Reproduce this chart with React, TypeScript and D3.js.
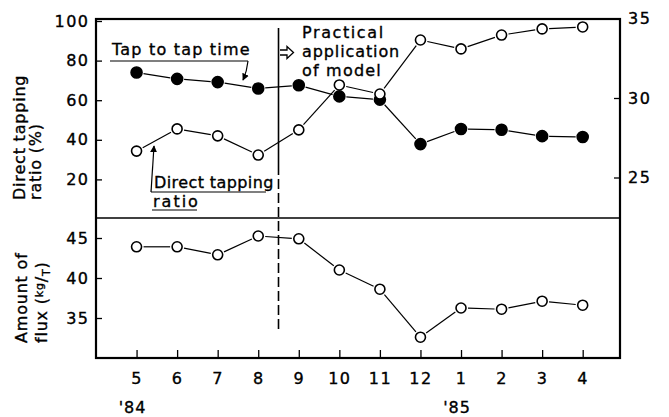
import * as d3 from "d3";
import { useEffect, useRef } from "react";

// months from May '84 to April '85
const months = ["5", "6", "7", "8", "9", "10", "11", "12", "1", "2", "3", "4"];
const yearLabels = ["'84", "'85"];
const yearStartIndex = [0, 8];

// tap to tap time (right axis), filled dots
const tapTime = [31.6, 31.2, 31.0, 30.6, 30.8, 30.1, 29.9, 27.1, 28.05, 28.0, 27.6, 27.55];
// direct tapping ratio % (left axis), open dots
const directRatio = [34.3, 45.5, 42, 32.3, 45, 67.7, 63.1, 90.4, 85.9, 92.9, 96, 97];
// amount of flux kg/T (lower panel)
const flux = [43.9, 43.9, 42.9, 45.25, 44.9, 41, 38.6, 32.6, 36.25, 36.1, 37.1, 36.6];

const ratioTicks = [20, 40, 60, 80, 100];
const timeTicks = [25, 30, 35];
const fluxTicks = [35, 40, 45];

const FONT = "'DejaVu Sans', Verdana, sans-serif";

type Pt = [number, number];

// old print style: lines stop a little before each marker
function gapped(pts: Pt[], gap: number) {
  const segs: [Pt, Pt][] = [];
  for (let i = 1; i < pts.length; i++) {
    const [x1, y1] = pts[i - 1];
    const [x2, y2] = pts[i];
    const len = Math.hypot(x2 - x1, y2 - y1);
    if (len <= gap * 2) continue;
    const ux = (x2 - x1) / len;
    const uy = (y2 - y1) / len;
    segs.push([
      [x1 + ux * gap, y1 + uy * gap],
      [x2 - ux * gap, y2 - uy * gap],
    ]);
  }
  return segs;
}

function Chart() {
  const ref = useRef<SVGSVGElement>(null);

  useEffect(() => {
    if (!ref.current) return;
    const svg = d3.select(ref.current);
    svg.selectAll("*").remove();

    const left = 96;
    const right = 620;
    const top = 19;
    const mid = 218;
    const bottom = 358;

    const x = d3.scaleLinear().domain([-1, 11.92]).range([left, right]);
    const yRatio = d3.scaleLinear().domain([0, 100]).range([219, 21]);
    const yTime = d3.scaleLinear().domain([25, 35]).range([177.5, 18.5]);
    const yFlux = d3.scaleLinear().domain([30, 45]).range([bottom, 238]);

    const defs = svg.append("defs");
    defs
      .append("marker")
      .attr("id", "head")
      .attr("viewBox", "0 0 10 10")
      .attr("refX", 9)
      .attr("refY", 5)
      .attr("markerWidth", 7)
      .attr("markerHeight", 9)
      .attr("markerUnits", "userSpaceOnUse")
      .attr("orient", "auto")
      .append("path")
      .attr("d", "M0,0 L10,5 L0,10 Z")
      .attr("fill", "#000");

    // frame + panel divider
    svg
      .append("rect")
      .attr("x", left)
      .attr("y", top)
      .attr("width", right - left)
      .attr("height", bottom - top)
      .attr("fill", "none")
      .attr("stroke", "#000")
      .attr("stroke-width", 2.2);
    svg
      .append("line")
      .attr("x1", left)
      .attr("x2", right)
      .attr("y1", mid)
      .attr("y2", mid)
      .attr("stroke", "#000")
      .attr("stroke-width", 1.4);

    const styleAxis = (g: d3.Selection<SVGGElement, unknown, null, undefined>) => {
      g.select(".domain").remove();
      g.selectAll("line").attr("stroke", "#000").attr("stroke-width", 1.3);
      g.selectAll("text")
        .style("font-family", FONT)
        .style("font-size", "16px")
        .style("letter-spacing", "1.5px")
        .attr("fill", "#000")
        .attr("stroke", "#000")
        .attr("stroke-width", 0.35);
    };

    svg
      .append("g")
      .attr("transform", `translate(${left},0)`)
      .call(d3.axisLeft(yRatio).tickValues(ratioTicks).tickSize(-6).tickPadding(6.5))
      .call(styleAxis);

    svg
      .append("g")
      .attr("transform", `translate(${left},0)`)
      .call(d3.axisLeft(yFlux).tickValues(fluxTicks).tickSize(-6).tickPadding(6.5))
      .call(styleAxis);

    svg
      .append("g")
      .attr("transform", `translate(${right},0)`)
      .call(d3.axisRight(yTime).tickValues(timeTicks).tickSize(-6).tickPadding(8))
      .call(styleAxis);

    svg
      .append("g")
      .attr("transform", `translate(0,${bottom})`)
      .call(
        d3
          .axisBottom(x)
          .tickValues(d3.range(months.length))
          .tickFormat((i) => months[i as number])
          .tickSize(-8)
          .tickPadding(15)
      )
      .call(styleAxis);

    svg
      .append("g")
      .selectAll("text")
      .data(yearLabels)
      .join("text")
      .attr("x", (_, i) => x(yearStartIndex[i]) - 4)
      .attr("y", 413)
      .attr("text-anchor", "middle")
      .attr("stroke", "#000")
      .attr("stroke-width", 0.35)
      .style("font-family", FONT)
      .style("font-size", "16px")
      .style("letter-spacing", "1px")
      .text((d) => d);

    // practical application divider
    const xDiv = x(3.5);
    svg
      .append("line")
      .attr("x1", xDiv)
      .attr("x2", xDiv)
      .attr("y1", 28)
      .attr("y2", 165)
      .attr("stroke", "#000")
      .attr("stroke-width", 1.6);
    svg
      .append("line")
      .attr("x1", xDiv)
      .attr("x2", xDiv)
      .attr("y1", 165)
      .attr("y2", 333)
      .attr("stroke", "#000")
      .attr("stroke-width", 1.6)
      .attr("stroke-dasharray", "10,4");

    const lineG = svg.append("g").attr("stroke", "#000").attr("stroke-width", 1.2);
    const drawSeries = (vals: number[], y: d3.ScaleLinear<number, number>, filled: boolean) => {
      const pts: Pt[] = vals.map((v, i) => [x(i), y(v)]);
      lineG
        .append("g")
        .selectAll("line")
        .data(gapped(pts, 7))
        .join("line")
        .attr("x1", (d) => d[0][0])
        .attr("y1", (d) => d[0][1])
        .attr("x2", (d) => d[1][0])
        .attr("y2", (d) => d[1][1]);
      svg
        .append("g")
        .selectAll("circle")
        .data(pts)
        .join("circle")
        .attr("cx", (d) => d[0])
        .attr("cy", (d) => d[1])
        .attr("r", filled ? 5.5 : 5)
        .attr("fill", filled ? "#000" : "#fff")
        .attr("stroke", "#000")
        .attr("stroke-width", 1.6);
    };

    drawSeries(tapTime, yTime, true);
    drawSeries(directRatio, yRatio, false);
    drawSeries(flux, yFlux, false);

    const label = (tx: number, ty: number, t: string, ls = 1) =>
      svg
        .append("text")
        .attr("x", tx)
        .attr("y", ty)
        .attr("stroke", "#000")
        .attr("stroke-width", 0.35)
        .style("font-family", FONT)
        .style("font-size", "16px")
        .style("letter-spacing", `${ls}px`)
        .text(t);

    // "Tap to tap time" callout
    label(112, 55, "Tap to tap time", 1.2);
    svg
      .append("path")
      .attr("d", "M110,61 H248")
      .attr("stroke", "#000")
      .attr("stroke-width", 1.2)
      .attr("fill", "none");
    svg
      .append("path")
      .attr("d", "M248,61 Q247,71 243,80")
      .attr("stroke", "#000")
      .attr("stroke-width", 1.2)
      .attr("fill", "none")
      .attr("marker-end", "url(#head)");

    // "Direct tapping ratio" callout
    label(154, 188, "Direct tapping", 0.4);
    label(153, 207, "ratio", 2);
    svg
      .append("path")
      .attr("d", "M151,192 H266 M152,210 H197")
      .attr("stroke", "#000")
      .attr("stroke-width", 1.2)
      .attr("fill", "none");
    svg
      .append("path")
      .attr("d", "M151,192 L154,146")
      .attr("stroke", "#000")
      .attr("stroke-width", 1.2)
      .attr("fill", "none")
      .attr("marker-end", "url(#head)");

    // "Practical application of model"
    svg
      .append("path")
      .attr("d", "M280,50 H287 V46.5 L293.5,52.5 L287,58.5 V55 H280")
      .attr("fill", "#fff")
      .attr("stroke", "#000")
      .attr("stroke-width", 1.3);
    label(302, 38, "Practical", 1.6);
    label(302, 57, "application", 0.9);
    label(302, 76, "of model", 1.2);

    // axis titles
    const vtitle = (tx: number, ty: number) =>
      svg
        .append("text")
        .attr("transform", `translate(${tx},${ty}) rotate(-90)`)
        .attr("stroke", "#000")
        .attr("stroke-width", 0.35)
        .style("font-family", FONT)
        .style("font-size", "16px")
        .style("letter-spacing", "0.8px");

    vtitle(25, 200).text("Direct tapping");
    vtitle(41, 200).text("ratio (%)");
    vtitle(27, 343).text("Amount of");
    const fl = vtitle(47, 343);
    fl.append("tspan").text("flux (");
    fl.append("tspan").attr("dy", -4).style("font-size", "11px").text("kg");
    fl.append("tspan").attr("dy", 4).text("/");
    fl.append("tspan").attr("dy", 3).style("font-size", "11px").text("T");
    fl.append("tspan").attr("dy", -3).text(")");
  }, []);

  return (
    <svg
      ref={ref}
      width={669}
      height={417}
      style={{ position: "absolute", left: 0, top: 0, background: "#fff" }}
    />
  );
}

export default function App() {
  return <Chart />;
}
